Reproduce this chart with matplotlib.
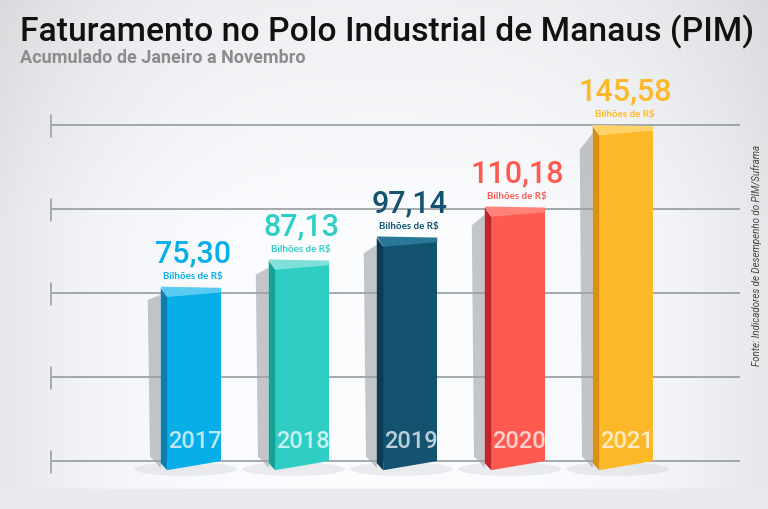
import numpy as np
import matplotlib
matplotlib.use("Agg")
import matplotlib.pyplot as plt
from matplotlib.patches import Polygon, Ellipse

# data
years = ["2017", "2018", "2019", "2020", "2021"]
values = [75.30, 87.13, 97.14, 110.18, 145.58]
value_labels = ["75,30", "87,13", "97,14", "110,18", "145,58"]
unit_label = "Bilhões de R$"
grid_values = [0, 36.5, 73, 109.5, 146]

front_colors = ["#07aee8", "#2fcec5", "#13536f", "#ff5a4f", "#fdb827"]
side_colors = ["#0b80b0", "#15a293", "#0b3b52", "#c0242d", "#d8901a"]
top_colors = ["#5acbf0", "#7ee0d9", "#2a7797", "#ff8279", "#ffd36a"]
text_colors = ["#07aee8", "#2fcec5", "#13536f", "#ff5a4f", "#fdb827"]

title = "Faturamento no Polo Industrial de Manaus (PIM)"
subtitle = "Acumulado de Janeiro a Novembro"
source = "Fonte: Indicadores de Desempenho do PIM/Suframa"

W, H = 768, 509
fig = plt.figure(figsize=(W / 100, H / 100), dpi=100)

# background gradient
bg = fig.add_axes([0, 0, 1, 1])
xx, yy = np.meshgrid(np.linspace(-1, 1, 400), np.linspace(0, 1, 300))
shade = 1 - 0.085 * np.clip(np.abs(xx) ** 3, 0, 1) - 0.05 * np.clip((yy - 0.55) / 0.45, 0, 1)
shade[yy < 0.04] = 0.93
img = np.dstack([shade * 0.985, shade * 0.99, shade * 1.0])
bg.imshow(np.clip(img, 0, 1), extent=[0, 1, 0, 1], aspect="auto", origin="lower")
bg.axis("off")

# main axes: baseline at y px 461, 2.3 px per unit
k = 2.3
px_left, px_right, px_bot, px_top = 50, 740, 490, 60
ax = fig.add_axes([px_left / W, (H - px_bot) / H, (px_right - px_left) / W, (px_bot - px_top) / H])
ax.set_ylim(-(px_bot - 461) / k, (461 - px_top) / k)
x0px, step = 191, 108
ax.set_xlim((px_left - x0px) / step, (px_right - x0px) / step)
ax.axis("off")

xs = np.arange(len(years))
w = 0.56
num_font = ["Roboto", "DejaVu Sans"]

for g in grid_values:
    ax.axhline(g, color="#8f9396", lw=1.1, zorder=1)
    ax.vlines(ax.get_xlim()[0], g - 5, g + 5, color="#a5a9ad", lw=2, zorder=1)

for i, (x, v) in enumerate(zip(xs, values)):
    a, b = x - w / 2, x + w / 2
    # floor shadow
    ax.add_patch(Ellipse((x - 0.05, -3.5), w * 1.7, 6, color="#b8bcc0", alpha=0.25, lw=0, zorder=2))
    # grey shadow on the left
    ax.add_patch(Polygon([(a - 0.12, v * 0.93), (a, v - 3), (a, -3), (a - 0.1, 2)],
                         closed=True, color="#9ea2a6", alpha=0.6, lw=0, zorder=2))
    # front face
    ax.bar(x + 0.03, v - 2, width=w - 0.06, bottom=0, color=front_colors[i], zorder=3)
    ax.add_patch(Polygon([(a + 0.06, 0), (b, 0), (a + 0.06, -4)], closed=True,
                         color=front_colors[i], lw=0, zorder=3))
    # left side face
    ax.add_patch(Polygon([(a, v), (a + 0.06, v - 4), (a + 0.06, -4), (a, -1)], closed=True,
                         color=side_colors[i], lw=0, zorder=3))
    # top face
    ax.add_patch(Polygon([(a, v + 0.5), (b, v), (b, v - 2), (a + 0.06, v - 4)], closed=True,
                         color=top_colors[i], lw=0, zorder=4))
    # labels
    ax.text(x + 0.02, v + 3, unit_label, ha="center", va="bottom", fontsize=7,
            fontweight="bold", color=text_colors[i], family=["Lato", "DejaVu Sans"], zorder=5)
    ax.text(x + 0.02, v + 8.5, value_labels[i], ha="center", va="bottom", fontsize=22,
            fontweight="medium", color=text_colors[i], family=num_font, zorder=5)
    ax.text(x + 0.04, 3.5, years[i], ha="center", va="bottom", fontsize=17,
            fontweight="medium", color="white", alpha=0.72, family=num_font, zorder=5)

fig.text(20 / W, 1 - 41 / H, title, fontsize=24.2, fontweight="medium", color="#111111",
         family=["Roboto", "DejaVu Sans"], ha="left", va="baseline")
fig.text(20 / W, 1 - 63 / H, subtitle, fontsize=13, fontweight="bold", color="#8a8c8e",
         family=["Roboto", "DejaVu Sans"], ha="left", va="baseline")
fig.text(757 / W, 1 - 255 / H, source, fontsize=7, style="italic", color="#444444",
         rotation=90, ha="center", va="center", family=["Roboto", "DejaVu Sans"])

fig.savefig("out.png", dpi=100)
